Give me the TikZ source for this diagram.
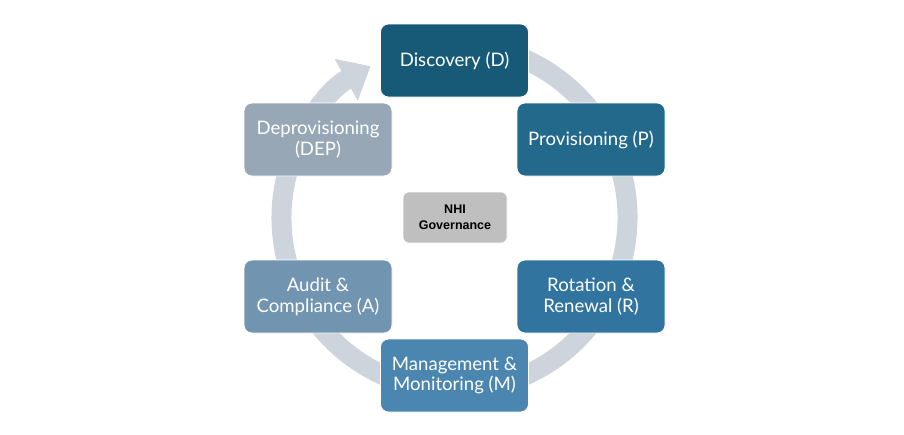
\documentclass[tikz,border=0pt]{standalone}
\usepackage{fontspec}
\newfontfamily\boxfont{Lato}
\newfontfamily\govfont{Liberation Sans}
\usetikzlibrary{arrows.meta}
\definecolor{cD}{HTML}{175A78}
\definecolor{cP}{HTML}{22698C}
\definecolor{cR}{HTML}{30749F}
\definecolor{cM}{HTML}{4A86B0}
\definecolor{cA}{HTML}{7195B0}
\definecolor{cDEP}{HTML}{97A7B6}
\definecolor{cGov}{HTML}{BFBFBF}
\definecolor{cRing}{HTML}{CED4DB}
\tikzset{
  stage/.style={rounded corners=8pt, draw=white, line width=0.8pt, text=white,
    minimum width=148pt, minimum height=73pt, align=center,
    font=\boxfont\fontsize{18.6}{20.8}\selectfont, inner sep=0pt},
  gov/.style={rounded corners=6pt, fill=cGov, draw=white, line width=0.6pt, text=black,
    minimum width=104pt, minimum height=51pt, align=center,
    font=\govfont\bfseries\fontsize{12.5}{16}\selectfont, inner sep=0pt},
  ring/.style={draw=cRing, line width=20pt, -{Triangle[length=28pt, width=46pt]}}
}
\begin{document}
\begin{tikzpicture}[x=1pt, y=-1pt]
\useasboundingbox (0,0) rectangle (904,434);
\coordinate (c) at (454.5,217.5);
\draw[ring] (c) ++(80:173pt) arc[start angle=80, end angle=-241, radius=173pt];
\node[stage, fill=cD] (D) at (454.5,60.5) {Discovery (D)};
\node[stage, fill=cP] (P) at (591,139.5) {Provisioning (P)};
\node[stage, fill=cR] (R) at (591,296.5) {Rotation \&\\Renewal (R)};
\node[stage, fill=cM] (M) at (454.5,375.5) {Management \&\\Monitoring (M)};
\node[stage, fill=cA] (A) at (318,296.5) {Audit \&\\Compliance (A)};
\node[stage, fill=cDEP] (DEP) at (318,139.5) {Deprovisioning\\(DEP)};
\node[gov] (G) at (455,217.5) {NHI\\Governance};
\end{tikzpicture}
\end{document}
